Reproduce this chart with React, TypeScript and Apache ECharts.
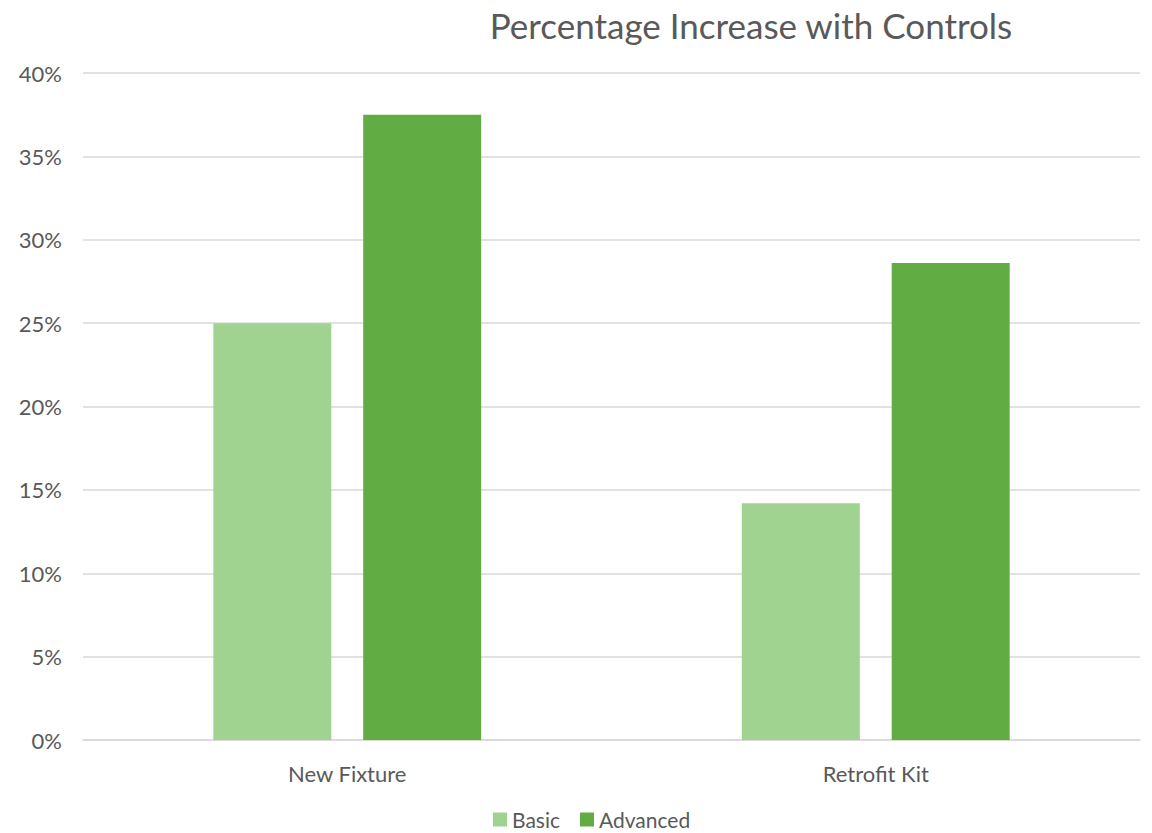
import React, { useEffect, useRef } from "react";
import * as echarts from "echarts";

const categories = ["New Fixture", "Retrofit Kit"];
const basicValues = [25.0, 14.2];
const advancedValues = [37.5, 28.6];
const seriesNames = ["Basic", "Advanced"];
const titleText = "Percentage Increase with Controls";

const FONT = "Lato, 'Open Sans', sans-serif";
const TEXT = "#595959";

export default function App() {
  const ref = useRef<HTMLDivElement>(null);
  useEffect(() => {
    document.body.style.margin = "0";
    const chart = echarts.init(ref.current!, null, { renderer: "svg" });
    chart.setOption({
      animation: false,
      backgroundColor: "#ffffff",
      textStyle: { fontFamily: FONT },
      title: {
        text: titleText,
        left: 746,
        top: 2,
        textAlign: "center",
        textStyle: { fontFamily: FONT, fontSize: 35, fontWeight: "normal", color: TEXT },
      },
      legend: {
        bottom: -2,
        left: 488,
        itemWidth: 14,
        itemHeight: 14,
        itemGap: 20,
        icon: "rect",
        textStyle: { fontFamily: FONT, fontSize: 21, color: TEXT },
        data: seriesNames,
      },
      grid: { left: 83, right: 12, top: 73, bottom: 93, containLabel: false },
      xAxis: {
        type: "category",
        data: categories,
        axisLine: { lineStyle: { color: "#d9d9d9", width: 1.5 } },
        axisTick: { show: false },
        axisLabel: { fontFamily: FONT, fontSize: 22, color: TEXT, margin: 22 },
      },
      yAxis: {
        type: "value",
        min: 0,
        max: 40,
        interval: 5,
        axisLine: { show: false },
        axisTick: { show: false },
        splitLine: { lineStyle: { color: "#d9d9d9", width: 1.5 } },
        axisLabel: { fontFamily: FONT, fontSize: 22, color: TEXT, margin: 21, formatter: "{value}%" },
      },
      series: [
        {
          name: seriesNames[0],
          type: "bar",
          data: basicValues,
          barWidth: 118,
          barGap: "27%",
          itemStyle: { color: "#a1d390" },
        },
        {
          name: seriesNames[1],
          type: "bar",
          data: advancedValues,
          barWidth: 118,
          itemStyle: { color: "#61ad43" },
        },
      ],
    });
    return () => chart.dispose();
  }, []);
  return <div ref={ref} style={{ width: 1152, height: 833 }} />;
}
